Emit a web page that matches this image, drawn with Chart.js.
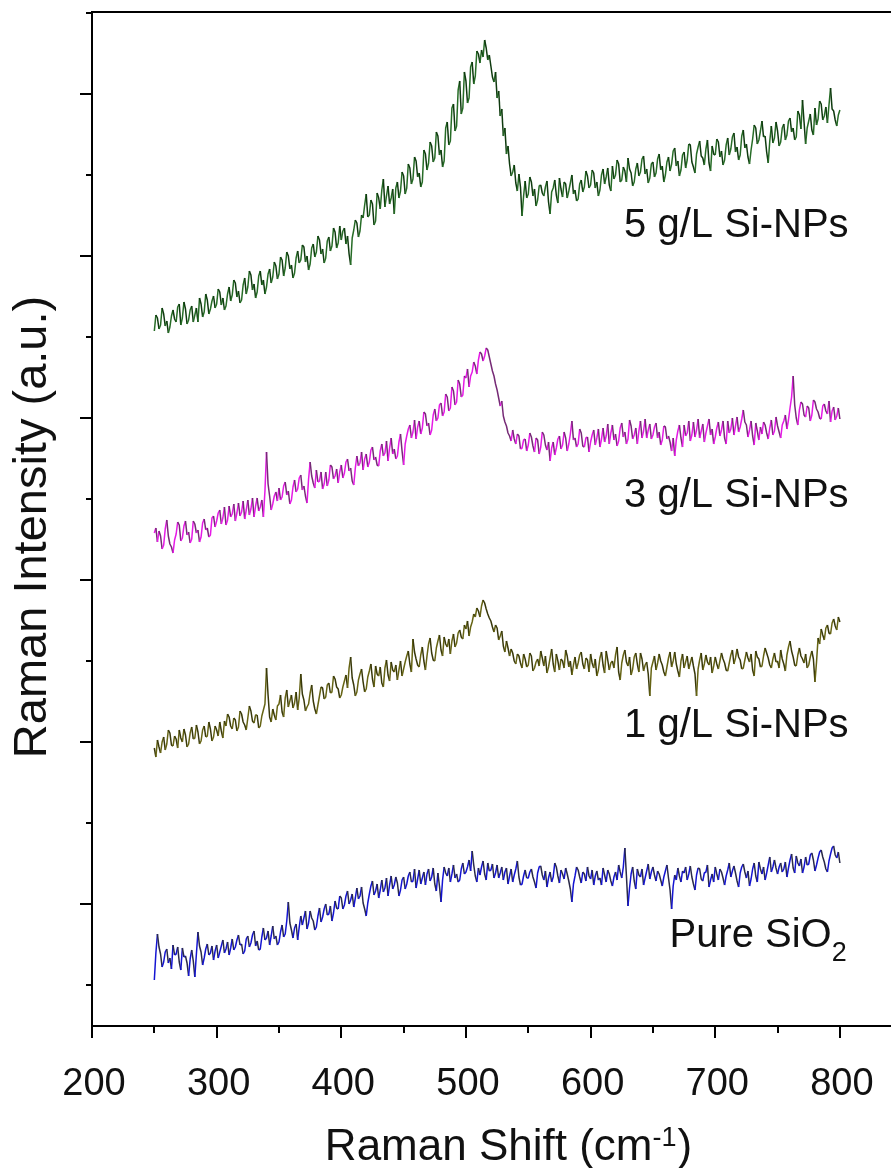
<!DOCTYPE html>
<html>
<head>
<meta charset="utf-8">
<title>Raman spectra</title>
<script src="https://cdn.jsdelivr.net/npm/chart.js@4.4.1/dist/chart.umd.min.js"></script>
<style>
  html, body { margin: 0; padding: 0; background: #fff; }
  canvas { display: block; }
</style>
</head>
<body>
<canvas id="raman" width="891" height="1168"></canvas>
<script>
// Raman shift (cm-1), shared by all four spectra
const RAMAN_SHIFT = [
  250, 251.25, 252.5, 253.75, 255, 256.25, 257.5, 258.75, 260, 261.25, 262.5, 263.75, 265, 266.25, 267.5, 268.75, 270, 271.25, 272.5, 273.75,
  275, 276.25, 277.5, 278.75, 280, 281.25, 282.5, 283.75, 285, 286.25, 287.5, 288.75, 290, 291.25, 292.5, 293.75, 295, 296.25, 297.5, 298.75,
  300, 301.25, 302.5, 303.75, 305, 306.25, 307.5, 308.75, 310, 311.25, 312.5, 313.75, 315, 316.25, 317.5, 318.75, 320, 321.25, 322.5, 323.75,
  325, 326.25, 327.5, 328.75, 330, 331.25, 332.5, 333.75, 335, 336.25, 337.5, 338.75, 340, 341.25, 342.5, 343.75, 345, 346.25, 347.5, 348.75,
  350, 351.25, 352.5, 353.75, 355, 356.25, 357.5, 358.75, 360, 361.25, 362.5, 363.75, 365, 366.25, 367.5, 368.75, 370, 371.25, 372.5, 373.75,
  375, 376.25, 377.5, 378.75, 380, 381.25, 382.5, 383.75, 385, 386.25, 387.5, 388.75, 390, 391.25, 392.5, 393.75, 395, 396.25, 397.5, 398.75,
  400, 401.25, 402.5, 403.75, 405, 406.25, 407.5, 408.75, 410, 411.25, 412.5, 413.75, 415, 416.25, 417.5, 418.75, 420, 421.25, 422.5, 423.75,
  425, 426.25, 427.5, 428.75, 430, 431.25, 432.5, 433.75, 435, 436.25, 437.5, 438.75, 440, 441.25, 442.5, 443.75, 445, 446.25, 447.5, 448.75,
  450, 451.25, 452.5, 453.75, 455, 456.25, 457.5, 458.75, 460, 461.25, 462.5, 463.75, 465, 466.25, 467.5, 468.75, 470, 471.25, 472.5, 473.75,
  475, 476.25, 477.5, 478.75, 480, 481.25, 482.5, 483.75, 485, 486.25, 487.5, 488.75, 490, 491.25, 492.5, 493.75, 495, 496.25, 497.5, 498.75,
  500, 501.25, 502.5, 503.75, 505, 506.25, 507.5, 508.75, 510, 511.25, 512.5, 513.75, 515, 516.25, 517.5, 518.75, 520, 521.25, 522.5, 523.75,
  525, 526.25, 527.5, 528.75, 530, 531.25, 532.5, 533.75, 535, 536.25, 537.5, 538.75, 540, 541.25, 542.5, 543.75, 545, 546.25, 547.5, 548.75,
  550, 551.25, 552.5, 553.75, 555, 556.25, 557.5, 558.75, 560, 561.25, 562.5, 563.75, 565, 566.25, 567.5, 568.75, 570, 571.25, 572.5, 573.75,
  575, 576.25, 577.5, 578.75, 580, 581.25, 582.5, 583.75, 585, 586.25, 587.5, 588.75, 590, 591.25, 592.5, 593.75, 595, 596.25, 597.5, 598.75,
  600, 601.25, 602.5, 603.75, 605, 606.25, 607.5, 608.75, 610, 611.25, 612.5, 613.75, 615, 616.25, 617.5, 618.75, 620, 621.25, 622.5, 623.75,
  625, 626.25, 627.5, 628.75, 630, 631.25, 632.5, 633.75, 635, 636.25, 637.5, 638.75, 640, 641.25, 642.5, 643.75, 645, 646.25, 647.5, 648.75,
  650, 651.25, 652.5, 653.75, 655, 656.25, 657.5, 658.75, 660, 661.25, 662.5, 663.75, 665, 666.25, 667.5, 668.75, 670, 671.25, 672.5, 673.75,
  675, 676.25, 677.5, 678.75, 680, 681.25, 682.5, 683.75, 685, 686.25, 687.5, 688.75, 690, 691.25, 692.5, 693.75, 695, 696.25, 697.5, 698.75,
  700, 701.25, 702.5, 703.75, 705, 706.25, 707.5, 708.75, 710, 711.25, 712.5, 713.75, 715, 716.25, 717.5, 718.75, 720, 721.25, 722.5, 723.75,
  725, 726.25, 727.5, 728.75, 730, 731.25, 732.5, 733.75, 735, 736.25, 737.5, 738.75, 740, 741.25, 742.5, 743.75, 745, 746.25, 747.5, 748.75,
  750, 751.25, 752.5, 753.75, 755, 756.25, 757.5, 758.75, 760, 761.25, 762.5, 763.75, 765, 766.25, 767.5, 768.75, 770, 771.25, 772.5, 773.75,
  775, 776.25, 777.5, 778.75, 780, 781.25, 782.5, 783.75, 785, 786.25, 787.5, 788.75, 790, 791.25, 792.5, 793.75, 795, 796.25, 797.5, 798.75,
  800
];

// intensities (a.u., each spectrum stacked with its own offset)
const SI_5GL = [
  735, 751, 748, 737, 741, 758, 752, 740, 745, 733, 739, 750, 756, 747, 744, 759, 762, 741, 748, 764,
  757, 742, 746, 756, 760, 744, 751, 758, 744, 768, 762, 749, 754, 772, 766, 752, 757, 765, 770, 758,
  762, 777, 774, 761, 768, 756, 760, 772, 779, 765, 771, 786, 783, 769, 775, 763, 766, 781, 788, 772,
  779, 795, 791, 776, 782, 768, 774, 790, 795, 781, 786, 772, 779, 792, 797, 783, 789, 804, 800, 787,
  792, 809, 806, 790, 798, 814, 810, 797, 801, 788, 793, 808, 815, 803, 806, 821, 819, 804, 810, 796,
  802, 818, 822, 809, 814, 830, 826, 812, 817, 803, 808, 825, 829, 815, 820, 838, 834, 818, 823, 840,
  826, 835, 838, 822, 830, 812, 801, 828, 836, 846, 843, 829, 835, 851, 848, 861, 872, 849, 851, 866,
  862, 841, 845, 873, 868, 857, 876, 887, 859, 870, 880, 862, 868, 877, 852, 878, 884, 868, 875, 894,
  890, 872, 878, 902, 898, 882, 887, 909, 905, 889, 893, 879, 884, 916, 912, 896, 903, 924, 920, 904,
  908, 934, 930, 911, 916, 899, 905, 938, 944, 921, 925, 958, 962, 935, 940, 976, 985, 952, 958, 994,
  985, 963, 968, 999, 1004, 982, 990, 1015, 1012, 1003, 1016, 1009, 1026, 1018, 1006, 1011, 1000, 989, 984, 994,
  968, 975, 950, 957, 930, 938, 912, 920, 902, 890, 894, 901, 883, 875, 892, 879, 850, 870, 885, 868,
  872, 889, 884, 870, 877, 860, 866, 880, 881, 873, 870, 879, 885, 864, 852, 874, 878, 886, 871, 863,
  888, 877, 869, 884, 882, 868, 875, 883, 891, 872, 876, 865, 867, 882, 886, 874, 879, 895, 890, 878,
  881, 896, 893, 878, 884, 870, 876, 891, 897, 882, 889, 898, 881, 875, 900, 887, 891, 906, 902, 884,
  886, 899, 895, 884, 908, 897, 893, 880, 884, 897, 903, 890, 894, 907, 910, 892, 897, 883, 888, 902,
  904, 889, 893, 907, 912, 896, 900, 884, 891, 904, 909, 895, 902, 915, 918, 900, 905, 890, 896, 911,
  914, 898, 906, 922, 921, 904, 899, 893, 912, 919, 925, 910, 908, 901, 917, 926, 903, 895, 920, 912,
  911, 927, 924, 909, 915, 901, 906, 921, 928, 911, 917, 929, 933, 914, 919, 906, 911, 930, 936, 918,
  922, 909, 902, 916, 927, 941, 938, 922, 926, 935, 945, 929, 930, 914, 903, 925, 940, 923, 928, 944,
  935, 920, 924, 938, 942, 926, 931, 945, 948, 934, 938, 926, 929, 955, 951, 937, 966, 944, 922, 938,
  945, 952, 936, 931, 958, 941, 947, 965, 962, 946, 950, 959, 943, 961, 978, 957, 955, 946, 940, 951,
  956
];

const SI_3GL = [
  533, 538, 524, 535, 530, 517, 521, 537, 546, 530, 522, 519, 513, 526, 532, 544, 541, 525, 528, 540,
  545, 531, 534, 523, 527, 545, 542, 533, 536, 524, 529, 543, 547, 536, 538, 529, 531, 548, 550, 539,
  545, 553, 556, 542, 548, 559, 541, 546, 560, 549, 552, 562, 545, 553, 563, 550, 554, 565, 547, 556,
  566, 551, 557, 568, 549, 560, 568, 555, 559, 566, 549, 575, 614, 582, 570, 556, 562, 570, 574, 565,
  578, 566, 569, 580, 584, 571, 575, 562, 566, 579, 586, 574, 577, 588, 591, 576, 580, 570, 563, 587,
  604, 590, 583, 578, 596, 584, 585, 594, 577, 582, 594, 580, 586, 601, 599, 587, 590, 597, 583, 594,
  601, 588, 593, 604, 607, 595, 598, 585, 581, 598, 610, 600, 603, 614, 596, 607, 612, 599, 604, 616,
  619, 606, 609, 601, 600, 615, 622, 610, 613, 625, 605, 618, 628, 612, 617, 607, 610, 624, 632, 615,
  601, 622, 630, 637, 641, 628, 634, 646, 627, 639, 645, 632, 638, 654, 652, 640, 643, 631, 636, 651,
  657, 645, 648, 661, 663, 650, 654, 672, 669, 655, 658, 679, 675, 661, 664, 686, 682, 669, 671, 690,
  688, 697, 679, 690, 694, 704, 700, 692, 706, 714, 712, 705, 710, 718, 716, 709, 702, 695, 690, 682,
  676, 668, 660, 665, 650, 644, 640, 633, 630, 625, 636, 627, 622, 632, 630, 617, 618, 626, 627, 615,
  621, 633, 629, 620, 614, 628, 626, 612, 619, 634, 631, 621, 616, 624, 605, 618, 624, 611, 618, 627,
  630, 617, 621, 634, 628, 615, 622, 632, 645, 626, 628, 619, 622, 637, 633, 620, 619, 628, 629, 614,
  624, 631, 636, 621, 628, 637, 619, 627, 638, 624, 630, 642, 622, 633, 641, 626, 632, 620, 625, 638,
  643, 629, 634, 622, 627, 646, 640, 627, 631, 638, 622, 635, 645, 628, 635, 647, 628, 636, 642, 627,
  631, 639, 643, 628, 634, 621, 626, 640, 639, 627, 630, 624, 615, 628, 610, 626, 635, 641, 628, 619,
  641, 630, 633, 645, 625, 631, 644, 629, 636, 647, 628, 635, 642, 624, 633, 640, 647, 631, 637, 622,
  629, 638, 644, 630, 636, 645, 628, 622, 645, 633, 637, 648, 631, 640, 649, 634, 639, 647, 656, 644,
  641, 629, 636, 645, 630, 621, 643, 635, 626, 639, 632, 644, 641, 633, 627, 638, 646, 631, 635, 649,
  640, 634, 628, 641, 645, 651, 637, 646, 658, 669, 690, 661, 648, 641, 656, 664, 662, 651, 649, 660,
  658, 645, 651, 666, 664, 657, 654, 648, 647, 660, 662, 655, 652, 665, 644, 655, 659, 646, 650, 658,
  647
];

const SI_1GL = [
  318, 309, 326, 319, 313, 324, 329, 316, 322, 336, 333, 321, 320, 330, 327, 318, 336, 328, 324, 337,
  331, 319, 322, 333, 339, 327, 328, 341, 334, 322, 325, 336, 340, 329, 330, 344, 337, 325, 329, 340,
  336, 330, 344, 335, 328, 345, 340, 352, 349, 340, 337, 348, 346, 335, 339, 355, 352, 344, 341, 336,
  348, 360, 355, 345, 343, 351, 351, 338, 340, 350, 356, 362, 398, 371, 349, 344, 357, 351, 346, 360,
  362, 371, 354, 349, 368, 376, 359, 365, 371, 358, 363, 374, 356, 368, 392, 372, 366, 355, 359, 362,
  373, 381, 365, 357, 352, 361, 370, 379, 378, 367, 369, 381, 383, 373, 374, 390, 387, 379, 377, 368,
  371, 379, 385, 391, 378, 398, 409, 388, 381, 370, 374, 386, 392, 397, 384, 374, 377, 389, 395, 402,
  387, 379, 400, 392, 390, 399, 383, 379, 398, 406, 391, 385, 404, 396, 394, 401, 386, 396, 405, 390,
  397, 404, 410, 415, 402, 394, 427, 414, 407, 401, 399, 411, 419, 405, 396, 410, 422, 428, 413, 406,
  405, 418, 425, 431, 416, 410, 429, 422, 419, 427, 412, 425, 432, 419, 423, 433, 436, 429, 427, 441,
  437, 445, 430, 439, 444, 452, 449, 458, 455, 449, 460, 466, 463, 457, 452, 448, 445, 439, 434, 441,
  438, 426, 430, 435, 420, 414, 425, 418, 410, 417, 413, 405, 402, 412, 410, 403, 398, 412, 407, 399,
  401, 413, 410, 395, 398, 404, 407, 400, 415, 408, 400, 410, 393, 399, 408, 417, 402, 394, 412, 405,
  396, 407, 405, 398, 416, 410, 399, 405, 391, 401, 409, 397, 403, 411, 414, 402, 397, 408, 406, 394,
  412, 403, 398, 407, 390, 396, 408, 414, 401, 393, 415, 406, 396, 403, 405, 398, 411, 419, 394, 386,
  403, 411, 416, 404, 400, 409, 391, 397, 409, 413, 402, 394, 413, 407, 395, 401, 404, 392, 370, 398,
  404, 410, 396, 403, 412, 405, 401, 394, 390, 399, 408, 414, 399, 405, 414, 402, 395, 389, 405, 412,
  398, 404, 410, 397, 403, 409, 400, 392, 370, 397, 406, 413, 396, 402, 411, 404, 401, 409, 393, 400,
  409, 402, 397, 405, 413, 407, 403, 396, 395, 403, 411, 416, 402, 408, 417, 409, 406, 397, 398, 406,
  414, 408, 404, 412, 396, 390, 415, 409, 407, 399, 400, 410, 418, 413, 408, 401, 398, 407, 413, 404,
  405, 398, 416, 407, 402, 395, 411, 419, 425, 415, 409, 401, 400, 411, 418, 410, 407, 403, 412, 398,
  401, 409, 415, 407, 384, 404, 428, 422, 437, 431, 426, 438, 441, 433, 432, 443, 447, 440, 436, 449,
  444
];

const SIO2_PURE = [
  86, 113, 132, 119, 112, 99, 104, 114, 117, 103, 108, 97, 121, 111, 112, 119, 104, 96, 118, 109,
  110, 103, 90, 107, 116, 105, 89, 112, 134, 120, 114, 101, 108, 117, 122, 111, 113, 120, 106, 115,
  121, 108, 114, 120, 126, 113, 117, 124, 111, 118, 127, 116, 119, 126, 131, 121, 122, 112, 115, 127,
  130, 119, 123, 131, 135, 120, 125, 116, 117, 129, 138, 126, 128, 135, 121, 130, 140, 127, 130, 121,
  124, 134, 141, 129, 132, 145, 164, 143, 136, 128, 138, 142, 126, 139, 150, 141, 148, 155, 137, 143,
  155, 148, 145, 136, 139, 150, 158, 144, 149, 157, 162, 151, 152, 160, 145, 153, 165, 158, 157, 170,
  168, 157, 161, 170, 175, 162, 166, 172, 159, 168, 178, 167, 170, 179, 163, 157, 150, 163, 172, 180,
  185, 171, 175, 182, 168, 176, 186, 174, 178, 188, 170, 181, 190, 177, 181, 189, 183, 170, 176, 186,
  189, 177, 182, 190, 194, 184, 185, 197, 178, 187, 196, 182, 188, 194, 181, 192, 197, 185, 189, 198,
  182, 175, 193, 180, 164, 186, 199, 193, 190, 198, 184, 192, 201, 188, 192, 184, 186, 197, 203, 192,
  194, 199, 206, 195, 215, 201, 190, 184, 198, 191, 199, 205, 192, 186, 203, 195, 196, 202, 188, 193,
  201, 188, 193, 199, 186, 194, 198, 182, 190, 197, 184, 191, 197, 205, 189, 181, 182, 190, 196, 188,
  188, 194, 197, 189, 184, 178, 193, 199, 200, 191, 186, 195, 179, 188, 194, 184, 189, 203, 199, 190,
  183, 196, 192, 187, 198, 192, 185, 177, 164, 182, 190, 199, 196, 189, 183, 194, 192, 185, 199, 190,
  187, 196, 181, 190, 195, 186, 188, 181, 198, 191, 184, 196, 192, 185, 180, 189, 194, 186, 201, 194,
  188, 199, 218, 190, 160, 178, 192, 199, 185, 177, 197, 191, 189, 197, 181, 188, 195, 202, 187, 194,
  199, 191, 185, 195, 192, 186, 180, 189, 195, 201, 188, 176, 157, 180, 191, 186, 198, 190, 184, 195,
  193, 199, 186, 192, 200, 189, 182, 176, 191, 198, 197, 187, 185, 193, 194, 201, 179, 186, 192, 184,
  199, 192, 186, 197, 194, 188, 181, 190, 196, 203, 189, 195, 200, 193, 185, 179, 193, 199, 202, 194,
  188, 195, 180, 187, 197, 203, 190, 184, 204, 197, 192, 199, 186, 193, 201, 209, 194, 199, 206, 198,
  192, 199, 203, 194, 197, 204, 189, 198, 206, 212, 198, 193, 210, 203, 200, 207, 193, 199, 209, 201,
  202, 211, 213, 206, 195, 201, 208, 214, 216, 209, 204, 197, 194, 205, 212, 218, 220, 211, 208, 214,
  203
];

const X_MAJOR_TICKS = [200, 300, 400, 500, 600, 700, 800];
const X_MINOR_TICKS = [250, 350, 450, 550, 650, 750];
const Y_MAJOR_TICKS = [162, 324, 486, 648, 810, 972];
const Y_MINOR_TICKS = [81, 243, 405, 567, 729, 891, 1053];

const SERIES_NAMES = ["5 g/L Si-NPs", "3 g/L Si-NPs", "1 g/L Si-NPs"];
const SERIES_NAME_Y = [829, 559, 329];
const PURE_NAME_Y = 119;

const FONT = "'Liberation Sans', Arial, Helvetica, sans-serif";
const INK = "#111";

function toPoints(values) {
  return RAMAN_SHIFT.map((shift, i) => ({ x: shift, y: values[i] }));
}

// rising and falling segments get slightly different shades, like the scanned trace
function spectrum(label, values, main, dark) {
  return {
    label,
    data: toPoints(values),
    borderColor: main,
    borderWidth: 1.5,
    borderJoinStyle: "bevel",
    pointRadius: 0,
    tension: 0,
    segment: {
      borderColor: (ctx) => (ctx.p1.parsed.y < ctx.p0.parsed.y ? dark : main),
    },
  };
}

function strokeLine(ctx, x1, y1, x2, y2) {
  ctx.beginPath();
  ctx.moveTo(x1, y1);
  ctx.lineTo(x2, y2);
  ctx.stroke();
}

const axisFrame = {
  id: "axis-frame",
  afterDraw(chart) {
    const { ctx, chartArea: area, scales } = chart;
    const x = scales.x;
    const y = scales.y;
    ctx.save();
    ctx.strokeStyle = "#000";
    ctx.lineWidth = 2;
    strokeLine(ctx, area.left, area.top, area.right, area.top);
    strokeLine(ctx, area.left, area.top - 1, area.left, area.bottom + 1);
    strokeLine(ctx, area.left - 1, area.bottom, area.right, area.bottom);

    X_MAJOR_TICKS.forEach((v) => {
      const px = Math.round(x.getPixelForValue(v));
      strokeLine(ctx, px, area.bottom, px, area.bottom + 12);
    });
    X_MINOR_TICKS.forEach((v) => {
      const px = Math.round(x.getPixelForValue(v));
      strokeLine(ctx, px, area.bottom, px, area.bottom + 7);
    });
    Y_MAJOR_TICKS.forEach((v) => {
      const py = Math.round(y.getPixelForValue(v));
      strokeLine(ctx, area.left, py, area.left - 12, py);
    });
    Y_MINOR_TICKS.forEach((v) => {
      const py = Math.round(y.getPixelForValue(v));
      strokeLine(ctx, area.left, py, area.left - 6, py);
    });

    ctx.fillStyle = INK;
    ctx.font = `38px ${FONT}`;
    ctx.textAlign = "center";
    ctx.textBaseline = "alphabetic";
    X_MAJOR_TICKS.forEach((v) => {
      ctx.fillText(String(v), x.getPixelForValue(v) + 2, area.bottom + 69);
    });

    // x title with superscript unit
    const base = area.bottom + 134;
    const main = "Raman Shift (cm";
    const sup = "-1";
    ctx.font = `44px ${FONT}`;
    const wMain = ctx.measureText(main).width;
    const wClose = ctx.measureText(")").width;
    ctx.font = `27px ${FONT}`;
    const wSup = ctx.measureText(sup).width;
    let left = 508 - (wMain + wSup + wClose) / 2;
    ctx.textAlign = "left";
    ctx.font = `44px ${FONT}`;
    ctx.fillText(main, left, base);
    left += wMain;
    ctx.font = `27px ${FONT}`;
    ctx.fillText(sup, left, base - 14);
    left += wSup;
    ctx.font = `44px ${FONT}`;
    ctx.fillText(")", left + 1, base);

    // y title, rotated, sitting a little below the plot centre
    ctx.save();
    ctx.translate(33, (area.top + area.bottom) / 2 + 8);
    ctx.rotate(-Math.PI / 2);
    ctx.textAlign = "center";
    ctx.textBaseline = "middle";
    ctx.font = `47px ${FONT}`;
    ctx.fillText("Raman Intensity (a.u.)", 0, 0);
    ctx.restore();
    ctx.restore();
  },
};

const seriesNames = {
  id: "series-names",
  afterDatasetsDraw(chart) {
    const { ctx, scales } = chart;
    const x = scales.x;
    const y = scales.y;
    ctx.save();
    ctx.fillStyle = INK;
    ctx.textBaseline = "alphabetic";
    ctx.textAlign = "right";
    ctx.font = `40px ${FONT}`;
    SERIES_NAMES.forEach((name, i) => {
      ctx.fillText(name, x.getPixelForValue(807), y.getPixelForValue(SERIES_NAME_Y[i]));
    });

    // Pure SiO2, subscript 2
    const right = x.getPixelForValue(805.5);
    const base = y.getPixelForValue(PURE_NAME_Y);
    ctx.font = `27px ${FONT}`;
    const wSub = ctx.measureText("2").width;
    ctx.fillText("2", right, base + 14);
    ctx.font = `40px ${FONT}`;
    ctx.fillText("Pure SiO", right - wSub, base);
    ctx.restore();
  },
};

new Chart(document.getElementById("raman"), {
  type: "line",
  data: {
    datasets: [
      spectrum("Pure SiO2", SIO2_PURE, "#1414d2", "#2a2a48"),
      spectrum("1 g/L Si-NPs", SI_1GL, "#666414", "#38380a"),
      spectrum("3 g/L Si-NPs", SI_3GL, "#e619e6", "#762a76"),
      spectrum("5 g/L Si-NPs", SI_5GL, "#266c26", "#0f3a0f"),
    ],
  },
  options: {
    responsive: false,
    animation: false,
    events: [],
    layout: { padding: { top: 12, right: 0, bottom: 0, left: 0 } },
    plugins: {
      legend: { display: false },
      tooltip: { enabled: false },
    },
    scales: {
      x: {
        type: "linear",
        min: 200,
        max: 841,
        grid: { display: false, drawTicks: false },
        border: { display: false },
        ticks: { display: false },
        afterFit: (scale) => { scale.height = 142; },
      },
      y: {
        type: "linear",
        min: 40,
        max: 1054,
        grid: { display: false, drawTicks: false },
        border: { display: false },
        ticks: { display: false },
        title: { display: false },
        afterFit: (scale) => { scale.width = 92; },
      },
    },
  },
  plugins: [axisFrame, seriesNames],
});
</script>
</body>
</html>
